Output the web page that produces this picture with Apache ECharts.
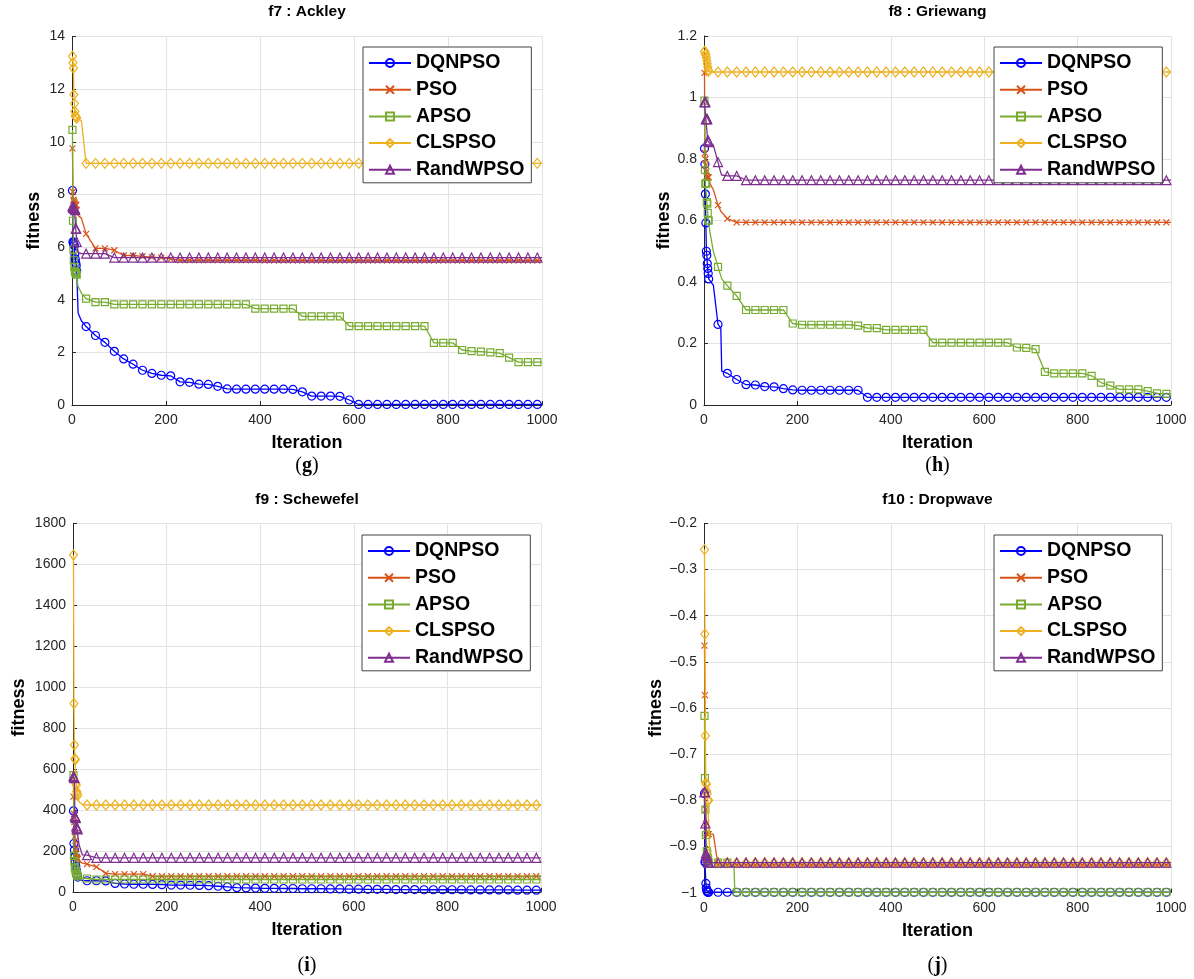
<!DOCTYPE html>
<html><head><meta charset="utf-8">
<script src="https://cdn.jsdelivr.net/npm/echarts@6/dist/echarts.min.js"></script>
<style>html,body{margin:0;padding:0;background:#fff}#c{width:1194px;height:979px}</style>
</head><body><div id="c"></div>
<script>
// ---------------- data ----------------
const SERIES_NAMES = ['DQNPSO', 'PSO', 'APSO', 'CLSPSO', 'RandWPSO'];
const PANEL_TITLES = ['f7 : Ackley', 'f8 : Griewang', 'f9 : Schewefel', 'f10 : Dropwave'];
const PANEL_LETTERS = ['g', 'h', 'i', 'j'];
const X_TICKS = [0, 200, 400, 600, 800, 1000];
const F7_YTICKS = [0, 2, 4, 6, 8, 10, 12, 14];
const F8_YTICKS = [0, 0.2, 0.4, 0.6, 0.8, 1, 1.2];
const F9_YTICKS = [0, 200, 400, 600, 800, 1000, 1200, 1400, 1600, 1800];
const F10_YTICKS = [-1, -0.9, -0.8, -0.7, -0.6, -0.5, -0.4, -0.3, -0.2];

// iterations at which values were read (f7 / f9)
const F7_ITER = [1,2,3,4,5,6,7,8,9,10,13,20,
 30,50,70,90,110,130,150,170,190,210,230,250,270,290,310,330,350,370,390,410,430,450,470,490,
 510,530,550,570,590,610,630,650,670,690,710,730,750,770,790,810,830,850,870,890,910,930,950,970,990,1000];
const F7_DQNPSO = [8.15,6.2,6.15,6.1,6.05,5.75,5.55,5.4,5.3,5.1,3.5,3.2,
 2.98,2.64,2.38,2.04,1.75,1.55,1.32,1.2,1.13,1.11,0.88,0.86,0.79,0.78,0.71,0.61,0.6,0.6,0.6,0.6,0.6,0.6,0.59,0.5,
 0.34,0.34,0.34,0.33,0.19,0.02,0.02,0.02,0.02,0.02,0.02,0.02,0.02,0.02,0.02,0.02,0.02,0.02,0.02,0.02,0.02,0.02,0.02,0.02,0.02,0.02];
const F7_PSO = [9.75,8.1,7.8,7.75,7.7,7.65,7.6,7.6,7.6,7.4,7.2,7.1,
 6.5,5.95,5.95,5.88,5.68,5.68,5.65,5.62,5.6,5.55,5.5,5.5,5.5,5.5,5.5,5.5,5.5,5.5,5.5,5.49,5.49,5.49,5.49,5.49,
 5.49,5.49,5.49,5.49,5.49,5.49,5.49,5.49,5.49,5.49,5.49,5.49,5.49,5.49,5.49,5.49,5.49,5.49,5.49,5.49,5.49,5.49,5.49,5.49,5.49,5.49];
const F7_APSO = [10.45,7.0,5.9,5.5,5.25,5.1,5.05,5.0,5.0,4.95,4.5,4.25,
 4.04,3.91,3.91,3.82,3.82,3.82,3.82,3.82,3.82,3.82,3.82,3.82,3.82,3.82,3.82,3.82,3.82,3.82,3.66,3.66,3.66,3.66,3.66,3.37,
 3.37,3.37,3.37,3.37,3.0,3.0,3.0,3.0,3.0,3.0,3.0,3.0,3.0,2.36,2.36,2.36,2.09,2.05,2.03,2.0,1.97,1.8,1.63,1.63,1.63,1.63];
const F7_CLSPSO = [13.25,13.0,12.8,11.8,11.45,11.15,11.0,10.95,10.92,10.9,10.85,10.8,
 9.18,9.18,9.18,9.18,9.18,9.18,9.18,9.18,9.18,9.18,9.18,9.18,9.18,9.18,9.18,9.18,9.18,9.18,9.18,9.18,9.18,9.18,9.18,9.18,
 9.18,9.18,9.18,9.18,9.18,9.18,9.18,9.18,9.18,9.18,9.18,9.18,9.18,9.18,9.18,9.18,9.18,9.18,9.18,9.18,9.18,9.18,9.18,9.18,9.18,9.18];
const F7_RANDWPSO = [7.55,7.5,7.5,7.5,7.45,7.45,7.4,6.7,6.7,6.2,5.8,5.75,
 5.75,5.75,5.75,5.6,5.6,5.6,5.6,5.6,5.6,5.6,5.6,5.6,5.6,5.6,5.6,5.6,5.6,5.6,5.6,5.6,5.6,5.6,5.6,5.6,
 5.6,5.6,5.6,5.6,5.6,5.6,5.6,5.6,5.6,5.6,5.6,5.6,5.6,5.6,5.6,5.6,5.6,5.6,5.6,5.6,5.6,5.6,5.6,5.6,5.6,5.6];

const F8_ITER = [1,2,3,4,5,6,7,8,9,10,13,20,30,36,38,
 50,70,90,110,130,150,170,190,210,230,250,270,290,310,330,350,370,390,410,430,450,470,490,
 510,530,550,570,590,610,630,650,670,690,710,730,750,770,790,810,830,850,870,890,910,930,950,970,990,1000];
const F8_DQNPSO = [0.834,0.783,0.686,0.592,0.5,0.487,0.46,0.444,0.428,0.41,0.41,0.39,0.262,0.25,0.11,
 0.103,0.083,0.066,0.065,0.06,0.059,0.053,0.049,0.048,0.048,0.048,0.048,0.048,0.048,0.048,0.025,0.025,0.025,0.025,0.025,0.025,0.025,0.025,
 0.025,0.025,0.025,0.025,0.025,0.025,0.025,0.025,0.025,0.025,0.025,0.025,0.025,0.025,0.025,0.025,0.025,0.025,0.025,0.025,0.025,0.025,0.025,0.025,0.025,0.025];
const F8_PSO = [1.08,0.82,0.8,0.78,0.76,0.745,0.74,0.74,0.74,0.74,0.72,0.7,0.65,0.63,0.625,
 0.606,0.594,0.594,0.594,0.594,0.594,0.594,0.594,0.594,0.594,0.594,0.594,0.594,0.594,0.594,0.594,0.594,0.594,0.594,0.594,0.594,0.594,0.594,
 0.594,0.594,0.594,0.594,0.594,0.594,0.594,0.594,0.594,0.594,0.594,0.594,0.594,0.594,0.594,0.594,0.594,0.594,0.594,0.594,0.594,0.594,0.594,0.594,0.594,0.594];
const F8_APSO = [0.99,0.765,0.72,0.72,0.72,0.66,0.655,0.625,0.6,0.6,0.56,0.5,0.449,0.42,0.41,
 0.388,0.355,0.309,0.309,0.309,0.309,0.309,0.265,0.261,0.261,0.261,0.261,0.261,0.261,0.258,0.25,0.25,0.244,0.244,0.244,0.244,0.244,0.203,
 0.203,0.203,0.203,0.203,0.203,0.203,0.203,0.203,0.187,0.186,0.182,0.108,0.103,0.103,0.103,0.103,0.095,0.073,0.063,0.051,0.051,0.051,0.045,0.038,0.036,0.036];
const F8_CLSPSO = [1.15,1.15,1.14,1.14,1.13,1.12,1.11,1.1,1.09,1.085,1.083,1.083,1.083,1.083,1.083,
 1.083,1.083,1.083,1.083,1.083,1.083,1.083,1.083,1.083,1.083,1.083,1.083,1.083,1.083,1.083,1.083,1.083,1.083,1.083,1.083,1.083,1.083,1.083,
 1.083,1.083,1.083,1.083,1.083,1.083,1.083,1.083,1.083,1.083,1.083,1.083,1.083,1.083,1.083,1.083,1.083,1.083,1.083,1.083,1.083,1.083,1.083,1.083,1.083,1.083];
const F8_RANDWPSO = [0.985,0.985,0.985,0.93,0.93,0.93,0.93,0.86,0.86,0.855,0.85,0.845,0.79,0.755,0.748,
 0.745,0.745,0.731,0.731,0.731,0.731,0.731,0.731,0.731,0.731,0.731,0.731,0.731,0.731,0.731,0.731,0.731,0.731,0.731,0.731,0.731,0.731,0.731,
 0.731,0.731,0.731,0.731,0.731,0.731,0.731,0.731,0.731,0.731,0.731,0.731,0.731,0.731,0.731,0.731,0.731,0.731,0.731,0.731,0.731,0.731,0.731,0.731,0.731,0.731];

const F9_ITER = F7_ITER.slice();
const F9_DQNPSO = [395,236,204,171,147,125,106,90,80,72,60,56,
 54,54,53,41,38,37,37,36,35,33,33,32,31,30,27,24,20,19,18,17,17,16,16,15,
 15,15,14,14,13,13,12,12,12,11,11,11,10,10,10,10,10,9,9,9,9,9,8,8,8,8];
const F9_PSO = [465,380,340,290,250,210,185,170,165,160,150,140,
 135,122,90,86,86,86,86,76,76,76,76,76,76,76,76,76,76,76,76,76,76,76,76,76,
 76,76,76,76,76,76,76,76,76,76,76,76,76,76,76,76,76,76,76,76,76,76,76,76,76,76];
const F9_APSO = [570,175,150,120,110,100,90,85,80,75,70,67,
 65,60,60,60,60,60,60,60,60,60,60,60,60,60,60,60,60,60,60,60,60,60,60,60,
 60,60,60,60,60,60,60,60,60,60,60,60,60,60,60,60,60,60,60,60,60,60,60,60,60,60];
const F9_CLSPSO = [1645,920,717,650,645,530,520,490,480,470,440,426,
 424,424,424,424,424,424,424,424,424,424,424,424,424,424,424,424,424,424,424,424,424,424,424,424,
 424,424,424,424,424,424,424,424,424,424,424,424,424,424,424,424,424,424,424,424,424,424,424,424,424,424];
const F9_RANDWPSO = [565,560,555,370,365,360,320,310,310,305,230,180,
 179,166,166,166,166,166,166,166,166,166,166,166,166,166,166,166,166,166,166,166,166,166,166,166,
 166,166,166,166,166,166,166,166,166,166,166,166,166,166,166,166,166,166,166,166,166,166,166,166,166,166];

const F10_ITER = [1,2,3,4,5,6,7,8,9,10,13,20,30,50,64,66,
 70,90,110,130,150,170,190,210,230,250,270,290,310,330,350,370,390,410,430,450,470,490,
 510,530,550,570,590,610,630,650,670,690,710,730,750,770,790,810,830,850,870,890,910,930,950,970,990,1000];
const F10_DQNPSO = [-0.785,-0.933,-0.935,-0.98,-0.99,-0.995,-0.998,-0.999,-0.999,-0.999,-0.999,-0.999,-0.999,-0.999,-0.999,-0.999,
 -0.999,-0.999,-0.999,-0.999,-0.999,-0.999,-0.999,-0.999,-0.999,-0.999,-0.999,-0.999,-0.999,-0.999,-0.999,-0.999,-0.999,-0.999,-0.999,-0.999,-0.999,-0.999,
 -0.999,-0.999,-0.999,-0.999,-0.999,-0.999,-0.999,-0.999,-0.999,-0.999,-0.999,-0.999,-0.999,-0.999,-0.999,-0.999,-0.999,-0.999,-0.999,-0.999,-0.999,-0.999,-0.999,-0.999,-0.999,-0.999];
const F10_PSO = [-0.465,-0.572,-0.78,-0.82,-0.85,-0.87,-0.873,-0.873,-0.873,-0.873,-0.873,-0.873,-0.94,-0.94,-0.94,-0.94,
 -0.94,-0.94,-0.94,-0.94,-0.94,-0.94,-0.94,-0.94,-0.94,-0.94,-0.94,-0.94,-0.94,-0.94,-0.94,-0.94,-0.94,-0.94,-0.94,-0.94,-0.94,-0.94,
 -0.94,-0.94,-0.94,-0.94,-0.94,-0.94,-0.94,-0.94,-0.94,-0.94,-0.94,-0.94,-0.94,-0.94,-0.94,-0.94,-0.94,-0.94,-0.94,-0.94,-0.94,-0.94,-0.94,-0.94,-0.94,-0.94];
const F10_APSO = [-0.617,-0.752,-0.82,-0.875,-0.875,-0.91,-0.915,-0.925,-0.93,-0.935,-0.935,-0.935,-0.935,-0.935,-0.935,-0.999,
 -0.999,-0.999,-0.999,-0.999,-0.999,-0.999,-0.999,-0.999,-0.999,-0.999,-0.999,-0.999,-0.999,-0.999,-0.999,-0.999,-0.999,-0.999,-0.999,-0.999,-0.999,-0.999,
 -0.999,-0.999,-0.999,-0.999,-0.999,-0.999,-0.999,-0.999,-0.999,-0.999,-0.999,-0.999,-0.999,-0.999,-0.999,-0.999,-0.999,-0.999,-0.999,-0.999,-0.999,-0.999,-0.999,-0.999,-0.999,-0.999];
const F10_CLSPSO = [-0.257,-0.44,-0.66,-0.763,-0.765,-0.78,-0.785,-0.8,-0.8,-0.8,-0.935,-0.935,-0.935,-0.935,-0.935,-0.935,
 -0.935,-0.935,-0.935,-0.935,-0.935,-0.935,-0.935,-0.935,-0.935,-0.935,-0.935,-0.935,-0.935,-0.935,-0.935,-0.935,-0.935,-0.935,-0.935,-0.935,-0.935,-0.935,
 -0.935,-0.935,-0.935,-0.935,-0.935,-0.935,-0.935,-0.935,-0.935,-0.935,-0.935,-0.935,-0.935,-0.935,-0.935,-0.935,-0.935,-0.935,-0.935,-0.935,-0.935,-0.935,-0.935,-0.935,-0.935,-0.935];
const F10_RANDWPSO = [-0.782,-0.782,-0.85,-0.915,-0.918,-0.92,-0.925,-0.93,-0.935,-0.935,-0.935,-0.935,-0.935,-0.935,-0.935,-0.935,
 -0.935,-0.935,-0.935,-0.935,-0.935,-0.935,-0.935,-0.935,-0.935,-0.935,-0.935,-0.935,-0.935,-0.935,-0.935,-0.935,-0.935,-0.935,-0.935,-0.935,-0.935,-0.935,
 -0.935,-0.935,-0.935,-0.935,-0.935,-0.935,-0.935,-0.935,-0.935,-0.935,-0.935,-0.935,-0.935,-0.935,-0.935,-0.935,-0.935,-0.935,-0.935,-0.935,-0.935,-0.935,-0.935,-0.935,-0.935,-0.935];

// ---------------- styles / layout ----------------
const COLORS = ['#0000ff', '#d95319', '#77ac30', '#edb120', '#7e2f8e'];
const SYMBOLS = ['circle', 'path://M0,0L10,10M10,0L0,10', 'rect', 'diamond', 'triangle'];
const SYMBOL_SIZES = [8, 6, 7, [8, 10], 9];
const FONT = '"Liberation Sans", Arial, Helvetica, sans-serif';

const PANELS = [
  {iter: F7_ITER, vals: [F7_DQNPSO, F7_PSO, F7_APSO, F7_CLSPSO, F7_RANDWPSO], yt: F7_YTICKS,
   left: 72, top: 36.5, w: 470, h: 368.5, nameGap: 29, legLeft: 363, legTop: 47, titleY: 4, capY: 466},
  {iter: F8_ITER, vals: [F8_DQNPSO, F8_PSO, F8_APSO, F8_CLSPSO, F8_RANDWPSO], yt: F8_YTICKS,
   left: 704, top: 36, w: 467, h: 369, nameGap: 31, legLeft: 994, legTop: 47, titleY: 4, capY: 466},
  {iter: F9_ITER, vals: [F9_DQNPSO, F9_PSO, F9_APSO, F9_CLSPSO, F9_RANDWPSO], yt: F9_YTICKS,
   left: 73, top: 523.3, w: 468, h: 368.5, nameGap: 45, legLeft: 362, legTop: 535, titleY: 492, capY: 966},
  {iter: F10_ITER, vals: [F10_DQNPSO, F10_PSO, F10_APSO, F10_CLSPSO, F10_RANDWPSO], yt: F10_YTICKS,
   left: 704, top: 523.3, w: 467, h: 369.4, nameGap: 37, legLeft: 994, legTop: 535, titleY: 492, capY: 966}
];

function isMarker(it) { return it <= 10 || (it >= 30 && it < 1000 && (it - 10) % 20 === 0); }
function fmtY(v) {
  const r = parseFloat(v.toFixed(4));
  return r < 0 ? '\u2212' + String(Math.abs(r)) : String(r);
}
function fmtX(v) { return String(Math.round(v)); }

const grid = [], xAxis = [], yAxis = [], series = [], legend = [], graphic = [];
PANELS.forEach((p, i) => {
  grid.push({left: p.left, top: p.top, width: p.w, height: p.h, containLabel: false});
  xAxis.push({
    type: 'value', gridIndex: i, min: X_TICKS[0], max: X_TICKS[X_TICKS.length - 1],
    interval: X_TICKS[1] - X_TICKS[0],
    name: 'Iteration', nameLocation: 'middle', nameGap: 29,
    nameTextStyle: {fontFamily: FONT, fontWeight: 'bold', fontSize: 18, color: '#000'},
    axisLine: {show: true, onZero: false, lineStyle: {color: '#262626', width: 1}},
    axisTick: {show: true, inside: true, length: 4, lineStyle: {color: '#262626'}},
    axisLabel: {fontFamily: FONT, fontSize: 14, color: '#262626', margin: 8, formatter: fmtX},
    splitLine: {show: true, lineStyle: {color: '#e3e3e3', width: 1}}
  });
  const yt = p.yt;
  yAxis.push({
    type: 'value', gridIndex: i, min: yt[0], max: yt[yt.length - 1],
    interval: parseFloat((yt[1] - yt[0]).toFixed(4)),
    name: 'fitness', nameLocation: 'middle', nameGap: p.nameGap, nameRotate: 90,
    nameTextStyle: {fontFamily: FONT, fontWeight: 'bold', fontSize: 18, color: '#000'},
    axisLine: {show: true, onZero: false, lineStyle: {color: '#262626', width: 1}},
    axisTick: {show: true, inside: true, length: 4, lineStyle: {color: '#262626'}},
    axisLabel: {fontFamily: FONT, fontSize: 14, color: '#262626', margin: 7, formatter: fmtY},
    splitLine: {show: true, lineStyle: {color: '#e3e3e3', width: 1}}
  });
  SERIES_NAMES.forEach((name, s) => {
    const data = p.iter.map((it, k) => isMarker(it)
      ? [it, p.vals[s][k]]
      : {value: [it, p.vals[s][k]], symbol: 'none'});
    series.push({
      type: 'line', name: name, xAxisIndex: i, yAxisIndex: i, data: data,
      symbol: SYMBOLS[s], symbolSize: SYMBOL_SIZES[s], showAllSymbol: true,
      lineStyle: {color: COLORS[s], width: 1.3},
      itemStyle: {color: 'transparent', borderColor: COLORS[s], borderWidth: 1.2},
      emphasis: {disabled: true}, animation: false, z: 2 + s * 0.01
    });
  });
  legend.push({
    data: SERIES_NAMES, orient: 'vertical', left: p.legLeft, top: p.legTop,
    itemWidth: 42, itemHeight: 10, itemGap: 6.7, selectedMode: false,
    padding: [6, 7, 3, 5], backgroundColor: '#fff', borderColor: '#444', borderWidth: 1,
    borderRadius: 0,
    textStyle: {fontFamily: FONT, fontWeight: 'bold', fontSize: 19.5, color: '#000', lineHeight: 20, padding: [0, 0, 0, 0]},
    z: 10
  });
  const cx = p.left + p.w / 2;
  graphic.push({type: 'text', x: cx, y: p.titleY, z: 20,
    style: {text: PANEL_TITLES[i], fill: '#000', font: 'bold 15.5px ' + FONT, align: 'center', verticalAlign: 'top'}});
  graphic.push({type: 'text', x: cx, y: p.capY, z: 20,
    style: {text: '{p|(}{b|' + PANEL_LETTERS[i] + '}{p|)}', align: 'center', verticalAlign: 'middle',
      rich: {p: {font: '20px "Liberation Serif", "DejaVu Serif", serif', fill: '#000'},
             b: {font: 'bold 20px "Liberation Serif", "DejaVu Serif", serif', fill: '#000'}}}});
});

const chart = echarts.init(document.getElementById('c'), null, {renderer: 'canvas'});
chart.setOption({
  animation: false, backgroundColor: '#fff',
  grid: grid, xAxis: xAxis, yAxis: yAxis, series: series, legend: legend, graphic: graphic
});
</script>
</body></html>
